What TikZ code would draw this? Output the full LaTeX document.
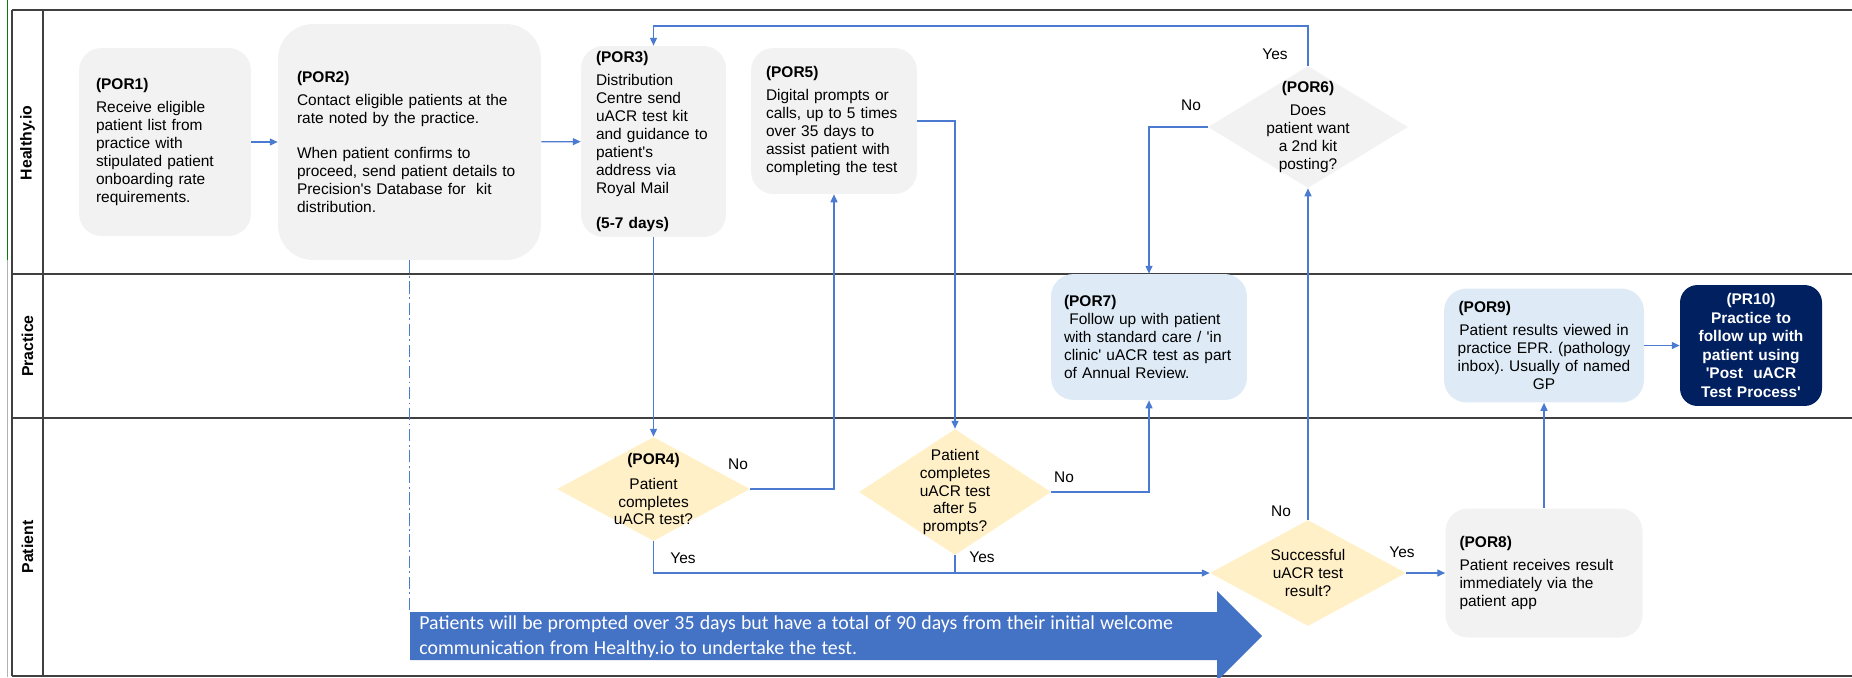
\documentclass[tikz,border=0pt]{standalone}
\usepackage{fontspec}
\setmainfont{Liberation Sans}[Ligatures=TeXOff]
\newfontfamily\notefont{Carlito}
\usetikzlibrary{shapes.geometric,arrows.meta}
\definecolor{boxgrey}{HTML}{F2F2F2}
\definecolor{boxblue}{HTML}{DEEBF7}
\definecolor{decyellow}{HTML}{FFF0C8}
\definecolor{navy}{HTML}{002060}
\definecolor{linkblue}{HTML}{4A7BD0}
\definecolor{notablue}{HTML}{4472C4}
\definecolor{lanegrey}{HTML}{404040}
\newcommand\notespacing{\spaceskip=1.15\fontdimen2\font\relax}
\frenchspacing

\begin{document}
\begin{tikzpicture}%
  [x=0.02cm,y=-0.02cm,
   font=\fontsize{8.8}{10.2}\selectfont,
   flow/.style={draw=linkblue,line width=0.75pt,-{Triangle[length=4.5pt,width=4pt]}}]
  \tikzstyle{grey box}=[rectangle,rounded corners=0.45cm,fill=boxgrey,inner ysep=2pt,align=left]
  \tikzstyle{blue box}=[grey box,fill=boxblue]
  \tikzstyle{dia node}=[diamond,inner sep=0pt]
  \tikzstyle{dia text}=[align=center,inner sep=0pt]
  \tikzstyle{lane label}=[rotate=90,font=\fontsize{9}{11}\selectfont\bfseries]
  \tikzstyle{yes no}=[inner sep=0pt]
  \tikzstyle{note text}=[text=white,font=\notefont\fontsize{11.3}{14.2}\selectfont\notespacing,
    align=left,inner xsep=0.18cm,inner ysep=0pt,minimum height=0.96cm]
  \useasboundingbox (0,0) rectangle (1852,677);
  % swimlanes
  \draw[green!50!black,line width=0.5pt] (7,0) -- (7,260);
  \draw[black!30,line width=0.5pt] (7,260) -- (7,677);
  \draw[lanegrey,line width=1pt] (12,10) -- (1852,10) (12,274) -- (1852,274)
    (12,418) -- (1852,418) (12,676) -- (1852,676) (12,10) -- (12,676) (43,10) -- (43,676);
  \node[lane label] (lane1) at (27.5,143) {Healthy.io};
  \node[lane label] (lane2) at (27.5,346) {Practice};
  \node[lane label] (lane3) at (27.5,547) {Patient};
  % Healthy.io steps
  \node[grey box,text width=2.76cm,inner xsep=0.34cm,minimum height=3.76cm] (por1) at (165,142)
    {\textbf{(POR1)}\\[3pt]Receive eligible\\patient list from\\practice with\\stipulated patient\\onboarding rate\\requirements.};
  \node[grey box,rounded corners=0.7cm,text width=4.5cm,inner xsep=0.38cm,minimum height=4.72cm] (por2) at (409.5,142)
    {\textbf{(POR2)}\\[3pt]Contact eligible patients at the\\rate noted by the practice.\\[10pt]When patient confirms to\\proceed, send patient details to\\Precision's Database for\ \ kit\\distribution.};
  \node[grey box,text width=2.3cm,inner xsep=0.3cm,minimum height=3.82cm] (por3) at (653.5,141.5)
    {\textbf{(POR3)}\\[3pt]Distribution\\Centre send\\uACR test kit\\and guidance to\\patient's\\address via\\Royal Mail\\[10pt]\textbf{(5-7 days)}};
  \node[grey box,text width=2.72cm,inner xsep=0.3cm,minimum height=2.92cm] (por5) at (834,121)
    {\textbf{(POR5)}\\[3pt]Digital prompts or\\calls, up to 5 times\\over 35 days to\\assist patient with\\completing the test};
  \node[dia node,fill=boxgrey,minimum width=4cm,minimum height=2.44cm,
    label={[dia text]center:{\textbf{(POR6)}\\[3pt]Does\\patient want\\a 2nd kit\\posting?}}] (por6) at (1308,127) {};
  % Practice steps
  \node[blue box,text width=3.4cm,inner xsep=0.26cm,minimum height=2.52cm] (por7) at (1149,337)
    {\textbf{(POR7)}\\\hspace*{3pt}Follow up with patient\\with standard care / 'in\\clinic' uACR test as part\\of Annual Review.};
  \node[blue box,align=center,text width=3.7cm,inner xsep=0.15cm,minimum height=2.28cm] (por9) at (1544,345.5)
    {\hspace*{4pt}\textbf{(POR9)}\hfill\mbox{}\\[3pt]Patient results viewed in\\practice EPR. (pathology\\inbox). Usually of named\\GP};
  \node[rectangle,rounded corners=0.35cm,fill=navy,text=white,align=center,text width=2.5cm,inner xsep=0.17cm,
    minimum height=2.42cm,font=\fontsize{8.8}{10.6}\selectfont\bfseries] (pr10) at (1751,345.5)
    {(PR10)\\Practice to\\follow up with\\patient using\\'Post\ \ uACR\\Test Process'};
  % Patient steps
  \node[dia node,fill=decyellow,minimum width=3.86cm,minimum height=2.08cm,
    label={[dia text]center:{\textbf{(POR4)}\\[4pt]Patient\\completes\\uACR test?}}] (por4) at (653.5,489) {};
  \node[dia node,fill=decyellow,minimum width=3.84cm,minimum height=2.52cm,
    label={[dia text]center:{Patient\\completes\\uACR test\\after 5\\prompts?}}] (dec5) at (955,492) {};
  \node[dia node,fill=decyellow,minimum width=3.92cm,minimum height=2.12cm,
    label={[dia text]center:{Successful\\uACR test\\result?}}] (dec8) at (1308,573) {};
  \node[grey box,text width=3.38cm,inner xsep=0.28cm,minimum height=2.58cm] (por8) at (1544,573)
    {\textbf{(POR8)}\\[3pt]Patient receives result\\immediately via the\\patient app};
  % timeline note
  \fill[notablue] (410,612) -- (1217,612) -- (1217,591) -- (1262,636) -- (1217,681)
    -- (1217,660) -- (410,660) -- cycle;
  \node[note text,anchor=north west] (note) at (410,612)
    {Patients will be prompted over 35 days but have a total of 90 days from their initial welcome\\
     communication from Healthy.io to undertake the test.};
  % connectors
  \coordinate (loop) at (1308,26);
  \draw[flow] (por1) -- (por2);
  \draw[flow] (por2) -- (por3);
  \draw[flow] (por6.north) -- (loop) -| (por3.north);
  \draw[flow] (por6.west) -| (por7.north);
  \draw[flow] (por3.south) -- (por4.north);
  \draw[flow] (por4.east) -| (por5.south);
  \draw[flow] (por5.east) -| (dec5.north);
  \draw[flow] (dec5.east) -| (por7.south);
  \draw[flow] (por4.south) |- (dec8.west);
  \draw[flow,-] (dec5.south) -- (dec5.south |- dec8.west);
  \draw[flow] (dec8.north) -- (por6.south);
  \draw[flow] (dec8.east) -- (por8.west);
  \draw[flow] (por8.north) -- (por9.south);
  \draw[flow] (por9.east) -- (pr10.west);
  \draw[linkblue,line width=0.75pt,dash pattern=on 7pt off 2pt on 1pt off 2pt]
    (por2.south) -- (por2.south |- note.north);
  \node[yes no] (yes6) at (1275,54) {Yes};
  \node[yes no] (no6) at (1191,105) {No};
  \node[yes no] (no4) at (738,464) {No};
  \node[yes no] (yes4) at (683,558) {Yes};
  \node[yes no] (no5) at (1064,477) {No};
  \node[yes no] (yes5) at (982,557) {Yes};
  \node[yes no] (no8) at (1281,511) {No};
  \node[yes no] (yes8) at (1402,552) {Yes};
\end{tikzpicture}
\end{document}
